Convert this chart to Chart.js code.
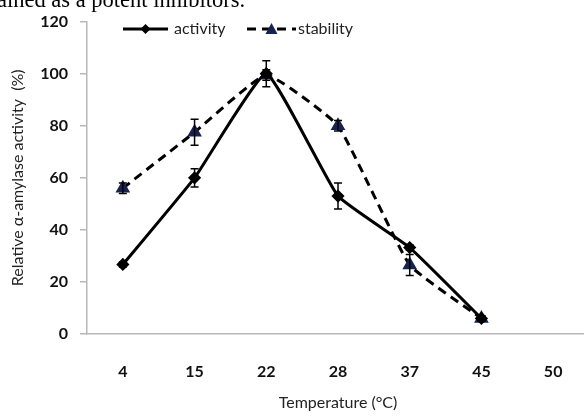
<!DOCTYPE html>
<html lang="en">
<head>
  <meta charset="UTF-8">
  <title>Temperature effect on alpha-amylase</title>
  <script src="https://cdn.jsdelivr.net/npm/chart.js"></script>
  <style>
    body {
      margin: 0;
      padding: 0;
      background: #fff;
      overflow: hidden;
      width: 584px;
      height: 417px;
      position: relative;
    }
    #snippet {
      position: absolute;
      left: -3px;
      top: -13px;
      font-family: "Liberation Serif", serif;
      font-size: 22.5px;
      line-height: 25px;
      color: #000;
      white-space: nowrap;
      z-index: 2;
    }
    #wrap {
      position: absolute;
      left: 0;
      top: 0;
      width: 600px;
      height: 417px;
    }
  </style>
</head>
<body>
  <div id="snippet">ained as a potent inhibitors.</div>
  <div id="wrap"><canvas id="tempChart" width="600" height="417"></canvas></div>

  <script>
    // values
    const temps = ["4", "15", "22", "28", "37", "45", "50"];
    const activity = [26.7, 60, 100, 53, 33.2, 6, null];
    const activityErr = [1, 3.5, 5, 5, 1, 1, null];
    const stability = [56, 77.5, 99.5, 80, 26.5, 6, null];
    const stabilityErr = [2, 5, 2, 2, 4, 1, null];
    const yTicks = [0, 20, 40, 60, 80, 100, 120];

    const navy = "#16224f";

    // error bars drawn through the scales
    const errorBars = {
      id: "errorBars",
      afterDatasetsDraw(chart) {
        const { ctx, scales: { x, y } } = chart;
        const errs = [activityErr, stabilityErr];
        ctx.save();
        ctx.strokeStyle = "#000";
        ctx.lineWidth = 1.5;
        chart.data.datasets.forEach((ds, i) => {
          ds.data.forEach((v, j) => {
            const e = errs[i][j];
            if (v == null || !e) return;
            const px = x.getPixelForValue(j);
            const top = y.getPixelForValue(v + e);
            const bot = y.getPixelForValue(v - e);
            ctx.beginPath();
            ctx.moveTo(px, top); ctx.lineTo(px, bot);
            ctx.moveTo(px - 4, top); ctx.lineTo(px + 4, top);
            ctx.moveTo(px - 4, bot); ctx.lineTo(px + 4, bot);
            ctx.stroke();
          });
        });
        ctx.restore();
      }
    };

    // legend drawn like the Excel one (line + marker + text)
    const lineLegend = {
      id: "lineLegend",
      afterDraw(chart) {
        const { ctx } = chart;
        const items = [
          { x0: 123, x1: 168, tx: 174 },
          { x0: 247, x1: 296, tx: 298 }
        ];
        const yc = 29;
        ctx.save();
        chart.data.datasets.forEach((ds, i) => {
          const it = items[i];
          ctx.strokeStyle = ds.borderColor;
          ctx.lineWidth = ds.borderWidth;
          ctx.setLineDash(ds.borderDash || []);
          ctx.beginPath();
          ctx.moveTo(it.x0, yc); ctx.lineTo(it.x1, yc);
          ctx.stroke();
          ctx.setLineDash([]);
          const mx = (it.x0 + it.x1) / 2;
          ctx.fillStyle = ds.pointBackgroundColor;
          ctx.beginPath();
          if (ds.pointStyle === "triangle") {
            ctx.moveTo(mx, yc - 6); ctx.lineTo(mx + 6, yc + 5); ctx.lineTo(mx - 6, yc + 5);
          } else {
            ctx.moveTo(mx, yc - 5); ctx.lineTo(mx + 5, yc); ctx.lineTo(mx, yc + 5); ctx.lineTo(mx - 5, yc);
          }
          ctx.closePath();
          ctx.fill();
          ctx.fillStyle = "#222";
          ctx.font = "16px Lato";
          ctx.textBaseline = "middle";
          ctx.fillText(ds.label, it.tx, yc);
        });
        ctx.restore();
      }
    };

    const ctx = document.getElementById("tempChart").getContext("2d");
    const tempChart = new Chart(ctx, {
      type: "line",
      data: {
        labels: temps,
        datasets: [
          {
            label: "activity",
            data: activity,
            borderColor: "#000",
            borderWidth: 3,
            pointStyle: "rectRot",
            pointRadius: 4.5,
            pointBackgroundColor: "#000",
            pointBorderColor: "#000",
            tension: 0.12,
            fill: false
          },
          {
            label: "stability",
            data: stability,
            borderColor: "#000",
            borderWidth: 3,
            borderDash: [9, 6],
            pointStyle: "triangle",
            pointRadius: 5.5,
            pointBackgroundColor: navy,
            pointBorderColor: navy,
            tension: 0.12,
            fill: false
          }
        ]
      },
      options: {
        responsive: false,
        animation: false,
        layout: { padding: { top: 20, right: 11, left: 0, bottom: 0 } },
        plugins: {
          legend: { display: false },
          tooltip: { enabled: false }
        },
        scales: {
          x: {
            offset: true,
            afterFit(scale) { scale.height = 83; },
            grid: { display: false, drawTicks: false },
            border: { color: "#b8b8b8", width: 1.5 },
            ticks: {
              padding: 28,
              color: "#111",
              font: { family: "Lato", size: 16, weight: "bold" }
            },
            title: {
              display: true,
              text: "Temperature (°C)",
              color: "#222",
              padding: { top: 0, bottom: 5 },
              font: { family: "Lato", size: 16 }
            }
          },
          y: {
            min: 0,
            max: 120,
            afterFit(scale) { scale.width = 87; },
            afterBuildTicks(scale) { scale.ticks = yTicks.map(v => ({ value: v })); },
            grid: {
              drawOnChartArea: false,
              color: "#b8b8b8",
              lineWidth: 1.5,
              tickLength: 7
            },
            border: { color: "#b8b8b8", width: 1.5 },
            ticks: {
              padding: 12,
              color: "#111",
              font: { family: "Lato", size: 16, weight: "bold" }
            },
            title: {
              display: true,
              text: "Relative α-amylase activity  (%)",
              color: "#222",
              padding: { top: 8, bottom: 0 },
              font: { family: "Lato", size: 16 }
            }
          }
        }
      },
      plugins: [errorBars, lineLegend]
    });
  </script>
</body>
</html>
